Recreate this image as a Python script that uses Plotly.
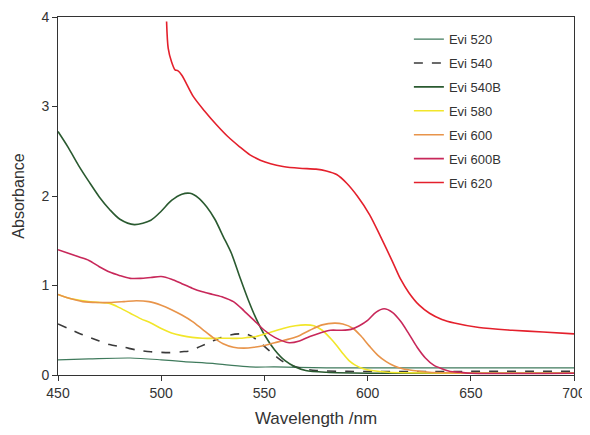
import plotly.graph_objects as go

# ---- data ----
x_520 = [450, 465, 485, 500, 511, 525, 533, 543, 555, 566, 580, 600, 650, 700]
y_520 = [0.17, 0.18, 0.19, 0.17, 0.15, 0.13, 0.11, 0.09, 0.09, 0.085, 0.08, 0.08, 0.08, 0.08]

x_540 = [450, 455, 462, 470, 475, 482, 488, 495, 504, 510, 514, 519, 524, 529, 534, 538, 541,
         544, 547, 550, 553, 556, 559, 564, 569, 575, 590, 650, 700]
y_540 = [0.57, 0.52, 0.45, 0.38, 0.34, 0.31, 0.28, 0.26, 0.25, 0.26, 0.27, 0.32, 0.37, 0.42, 0.45,
         0.46, 0.46, 0.43, 0.38, 0.32, 0.26, 0.20, 0.15, 0.10, 0.07, 0.05, 0.04, 0.04, 0.04]

x_540B = [450, 455, 460, 465, 470, 475, 480, 487, 495, 500, 505, 510, 514, 518, 522, 526, 530,
          534, 538, 542, 546, 550, 555, 560, 565, 570, 580, 600, 650, 700]
y_540B = [2.72, 2.54, 2.34, 2.16, 1.99, 1.85, 1.74, 1.68, 1.73, 1.83, 1.95, 2.02, 2.03, 1.98, 1.88,
          1.74, 1.55, 1.36, 1.10, 0.85, 0.63, 0.45, 0.28, 0.16, 0.09, 0.05, 0.03, 0.02, 0.02, 0.02]

x_580 = [450, 455, 462, 470, 475, 480, 485, 490, 495, 500, 505, 510, 515, 520, 527, 533, 538,
         542, 546, 552, 559, 565, 570, 574, 578, 582, 585, 588, 591, 594, 598, 602, 610, 650, 700]
y_580 = [0.90, 0.86, 0.83, 0.81, 0.80, 0.75, 0.69, 0.63, 0.58, 0.52, 0.47, 0.44, 0.42, 0.41, 0.41,
         0.41, 0.41, 0.42, 0.43, 0.47, 0.52, 0.55, 0.56, 0.55, 0.50, 0.41, 0.33, 0.24, 0.16, 0.11,
         0.07, 0.05, 0.03, 0.02, 0.02]

x_600 = [450, 455, 462, 470, 475, 482, 488, 494, 500, 505, 510, 515, 520, 525, 530, 535, 540,
         545, 550, 555, 560, 566, 572, 578, 584, 588, 593, 597, 601, 605, 609, 613, 617, 622, 630,
         650, 700]
y_600 = [0.90, 0.86, 0.82, 0.81, 0.81, 0.82, 0.83, 0.82, 0.78, 0.73, 0.67, 0.60, 0.51, 0.42, 0.35,
         0.31, 0.30, 0.31, 0.33, 0.36, 0.39, 0.43, 0.50, 0.56, 0.58, 0.57, 0.52, 0.43, 0.32, 0.22,
         0.15, 0.10, 0.07, 0.05, 0.03, 0.02, 0.02]

x_600B = [450, 455, 460, 465, 470, 475, 480, 485, 490, 495, 500, 505, 510, 515, 520, 525, 530,
          535, 540, 545, 550, 555, 562, 567, 572, 577, 582, 587, 592, 596, 600, 604, 608, 612, 616,
          620, 624, 628, 632, 636, 640, 645, 650, 700]
y_600B = [1.40, 1.36, 1.32, 1.28, 1.21, 1.15, 1.11, 1.08, 1.08, 1.09, 1.10, 1.07, 1.02, 0.97, 0.93,
          0.90, 0.87, 0.82, 0.72, 0.61, 0.50, 0.42, 0.36, 0.38, 0.43, 0.47, 0.50, 0.50, 0.51, 0.55,
          0.61, 0.70, 0.74, 0.70, 0.60, 0.46, 0.31, 0.19, 0.11, 0.07, 0.04, 0.03, 0.02, 0.02]

x_620 = [502.6, 503.4, 505, 506.7, 508, 510, 515.6, 521, 527, 532, 538, 543, 548, 553, 559, 567,
         575, 580, 585, 590, 595, 601, 606, 612, 616, 620, 625, 630, 636, 642, 654, 670, 685, 700]
y_620 = [3.95, 3.65, 3.50, 3.41, 3.40, 3.35, 3.11, 2.95, 2.79, 2.67, 2.55, 2.46, 2.40, 2.36, 2.33,
         2.31, 2.30, 2.28, 2.24, 2.14, 2.00, 1.79, 1.56, 1.27, 1.07, 0.92, 0.78, 0.69, 0.62, 0.58,
         0.53, 0.50, 0.48, 0.46]

series = [
    ("Evi 520", x_520, y_520, "#3f7a5c", 1.2, "solid"),
    ("Evi 540", x_540, y_540, "#3a3a3a", 1.6, "dash"),
    ("Evi 540B", x_540B, y_540B, "#2a5a30", 1.6, "solid"),
    ("Evi 580", x_580, y_580, "#f2e62a", 1.6, "solid"),
    ("Evi 600", x_600, y_600, "#e8944a", 1.6, "solid"),
    ("Evi 600B", x_600B, y_600B, "#c8285a", 1.6, "solid"),
    ("Evi 620", x_620, y_620, "#e4202c", 1.6, "solid"),
]

fig = go.Figure()
for name, xs, ys, col, w, dash in series:
    fig.add_trace(go.Scatter(
        x=xs, y=ys, mode="lines", name=name, legendgroup=name,
        line=dict(color=col, width=w, dash=dash, shape="spline", smoothing=0.8),
    ))

font_family = "Liberation Sans, Arial, sans-serif"
# page body has an 8px margin, so the figure is sized to fit inside the window
fig.update_layout(
    width=582, height=427,
    margin=dict(l=50, r=16, t=9, b=60),
    paper_bgcolor="white", plot_bgcolor="white",
    font=dict(family=font_family, color="#333333", size=14),
    showlegend=True,
    legend=dict(x=0.68, y=0.98, xanchor="left", yanchor="top",
                bgcolor="rgba(0,0,0,0)", font=dict(size=13, color="#333333"),
                tracegroupgap=4, itemwidth=30),
    xaxis=dict(range=[450, 700], tickvals=[450, 500, 550, 600, 650, 700],
               showgrid=False, zeroline=False, showline=True, linecolor="#333333",
               linewidth=1, mirror=True, ticks="outside", ticklen=5, tickcolor="#333333",
               tickfont=dict(size=14), automargin=False,
               title=dict(text="Wavelength /nm", font=dict(size=17), standoff=12)),
    yaxis=dict(range=[0, 4], tickvals=[0, 1, 2, 3, 4],
               showgrid=False, zeroline=False, showline=True, linecolor="#333333",
               linewidth=1, mirror=True, ticks="outside", ticklen=5, tickcolor="#333333",
               tickfont=dict(size=14), automargin=False,
               title=dict(text="Absorbance", font=dict(size=16), standoff=12)),
)

fig.write_html("out.html")
